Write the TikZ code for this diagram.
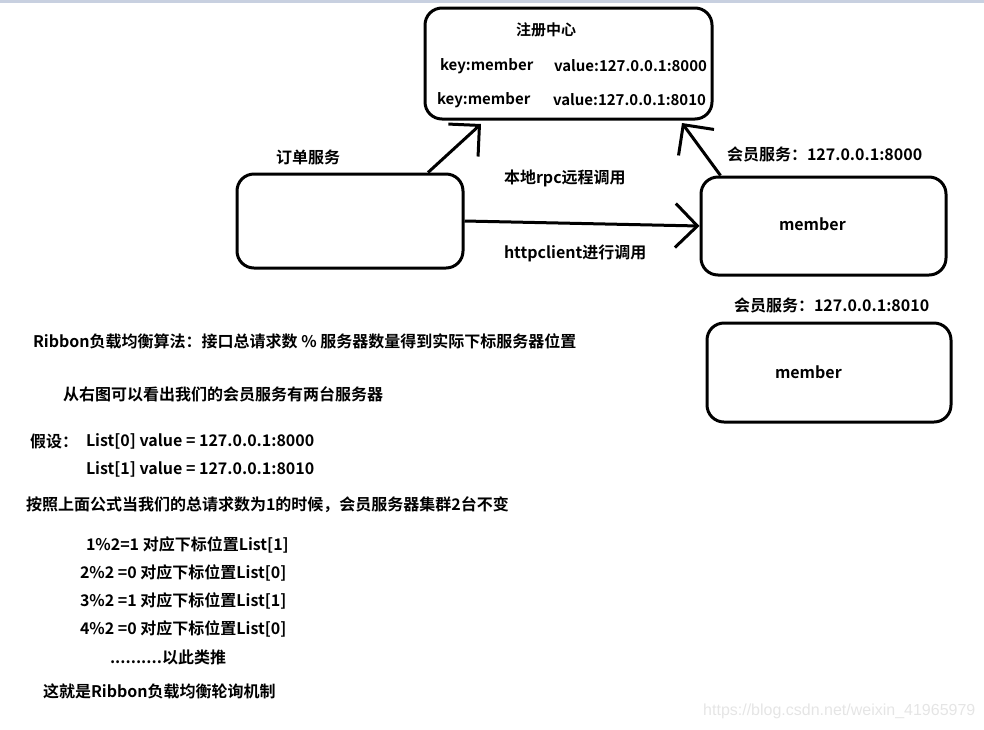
\documentclass[tikz,border=0pt]{standalone}
\usepackage{fontspec}
\setmainfont{Noto Sans CJK SC}[BoldFont={Noto Sans CJK SC Bold}]
\newfontfamily\wmfont{Liberation Sans}
\usepackage{xcolor}
\usepackage{tikz}
\usetikzlibrary{arrows.meta}
\definecolor{topbar}{RGB}{200,208,224}
\tikzset{
    tnode/.style = {inner sep=0pt, outer sep=0pt, font=\bfseries\fontsize{16}{18}\selectfont},
    lnode/.style = {tnode, anchor=west},
    rnode/.style = {lnode, font=\bfseries\fontsize{15}{17}\selectfont},
    box/.style = {draw=black, line width=3pt, rounded corners=17pt, inner sep=0pt},
    call/.style = {line width=3pt, -{Straight Barb[length=22pt, width=44pt, line width=3pt]}}
}

\begin{document}
\begin{tikzpicture}[x=1pt, y=-1pt]

            \useasboundingbox (0,0) rectangle (984,729);
            \fill [topbar] (0,0) rectangle (984,3);

            % registry
            \node [box, minimum width=287pt, minimum height=111pt] (reg) at (568.5,63.5) {};
            \node [tnode, font=\bfseries\fontsize{15}{17}\selectfont] (regtitle) at (546,30) {注册中心};
            \node [rnode] (key1) at (440,66) {key:member};
            \node [rnode] (val1) at (554,66) {value:127.0.0.1:8000};
            \node [rnode] (key2) at (437,100) {key:member};
            \node [rnode] (val2) at (553,100) {value:127.0.0.1:8010};

            % services
            \node [box, minimum width=226pt, minimum height=94pt] (order) at (350,221) {};
            \node [lnode] (orderlbl) at (276,157) {订单服务};
            \node [box, minimum width=245pt, minimum height=98pt] (mem1) at (823.5,226) {};
            \node [lnode] (mem1lbl) at (727,154) {会员服务：127.0.0.1:8000};
            \node [lnode] (mem1txt) at (779,224) {member};
            \node [box, minimum width=244pt, minimum height=99pt] (mem2) at (829,372.5) {};
            \node [lnode] (mem2lbl) at (734,305) {会员服务：127.0.0.1:8010};
            \node [lnode] (mem2txt) at (775,372) {member};

            \node [lnode] (rpclbl) at (504,178) {本地rpc远程调用};
            \node [lnode] (httplbl) at (504,253) {httpclient进行调用};

            \coordinate (regin1) at (481,124);
            \coordinate (regin2) at (682,123);
            \draw [call] ([xshift=78pt]order.north) -- (regin1);
            \draw [call] ([xshift=-103pt]mem1.north) -- (regin2);
            \draw [call] (order.east) -- (mem1.west);

            % notes
            \node [lnode] (n1) at (33,341) {Ribbon负载均衡算法：接口总请求数 \% 服务器数量得到实际下标服务器位置};
            \node [lnode] (n2) at (63,394) {从右图可以看出我们的会员服务有两台服务器};
            \node [lnode] (n3) at (30,441) {假设：};
            \node [lnode] (n4) at (86,441) {List[0] value = 127.0.0.1:8000};
            \node [lnode] (n5) at (86,469) {List[1] value = 127.0.0.1:8010};
            \node [lnode] (n6) at (26,505) {按照上面公式当我们的总请求数为1的时候，会员服务器集群2台不变};
            \node [lnode] (n7) at (86,545) {1\%2=1 对应下标位置List[1]};
            \node [lnode] (n8) at (80,573) {2\%2 =0 对应下标位置List[0]};
            \node [lnode] (n9) at (80,601) {3\%2 =1 对应下标位置List[1]};
            \node [lnode] (n10) at (80,629) {4\%2 =0 对应下标位置List[0]};
            \node [lnode] (n11) at (110,657) {..........以此类推};
            \node [lnode] (n12) at (43,691) {这就是Ribbon负载均衡轮询机制};

            \node [inner sep=0pt, anchor=west, text=black!10, font=\wmfont\fontsize{16}{18}\selectfont] (wm) at (703,711) {https://blog.csdn.net/weixin\_41965979};

\end{tikzpicture}
\end{document}
